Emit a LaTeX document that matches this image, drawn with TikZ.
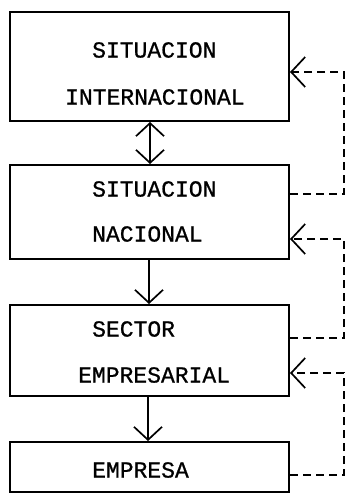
\documentclass[tikz,border=0pt]{standalone}
\usepackage{fontspec}
\newfontfamily\twfont[FakeBold=0.8]{Liberation Mono}
\usetikzlibrary{arrows.meta}
\begin{document}
\begin{tikzpicture}[x=1pt,y=1pt,
  box/.style={draw, line width=2pt, minimum width=279pt, inner sep=0pt},
  lbl/.style={anchor=west, inner sep=0pt, font=\twfont\fontsize{23}{23}\selectfont},
  flow/.style={line width=1.7pt, -{Straight Barb[length=13pt,width=28pt]}},
  fb/.style={line width=1.7pt, dash pattern=on 8pt off 5pt, -{Straight Barb[length=14pt,width=30pt]}}
]
\useasboundingbox (0,0) rectangle (346,-494);
\node[box, minimum height=109pt] (b1) at (149.5,-66.5) {};
\node[box, minimum height=94pt] (b2) at (149.5,-212) {};
\node[box, minimum height=91pt] (b3) at (149.5,-350.5) {};
\node[box, minimum height=50pt] (b4) at (149.5,-467) {};
\node[lbl] (t1a) at (92,-50) {SITUACION};
\node[lbl] (t1b) at (65,-97) {INTERNACIONAL};
\node[lbl] (t2a) at (92,-189) {SITUACION};
\node[lbl] (t2b) at (92,-234) {NACIONAL};
\node[lbl] (t3a) at (92,-329) {SECTOR};
\node[lbl] (t3b) at (78,-375) {EMPRESARIAL};
\node[lbl] (t4a) at (92,-470) {EMPRESA};
% vertical flow arrows
\draw[line width=1.7pt, {Straight Barb[length=13pt,width=28pt]}-{Straight Barb[length=13pt,width=28pt]}] (b1.south -| 150,0) -- (b2.north -| 150,0);
\draw[flow] (b2.south -| 149,0) -- (b3.north -| 149,0);
\draw[flow] (b3.south -| 148,0) -- (b4.north -| 148,0);
% feedback loops
\coordinate (o2) at (344,-194);
\coordinate (i1) at (344,-72);
\coordinate (o3) at (344,-338);
\coordinate (i2) at (344,-239);
\coordinate (o4) at (344,-475);
\coordinate (i3) at (344,-373);
\draw[fb] (o2 -| b2.east) -- (o2) -- (i1) -- (i1 -| b1.east);
\draw[fb] (o3 -| b3.east) -- (o3) -- (i2) -- (i2 -| b2.east);
\draw[fb] (o4 -| b4.east) -- (o4) -- (i3) -- (i3 -| b3.east);
\end{tikzpicture}
\end{document}
